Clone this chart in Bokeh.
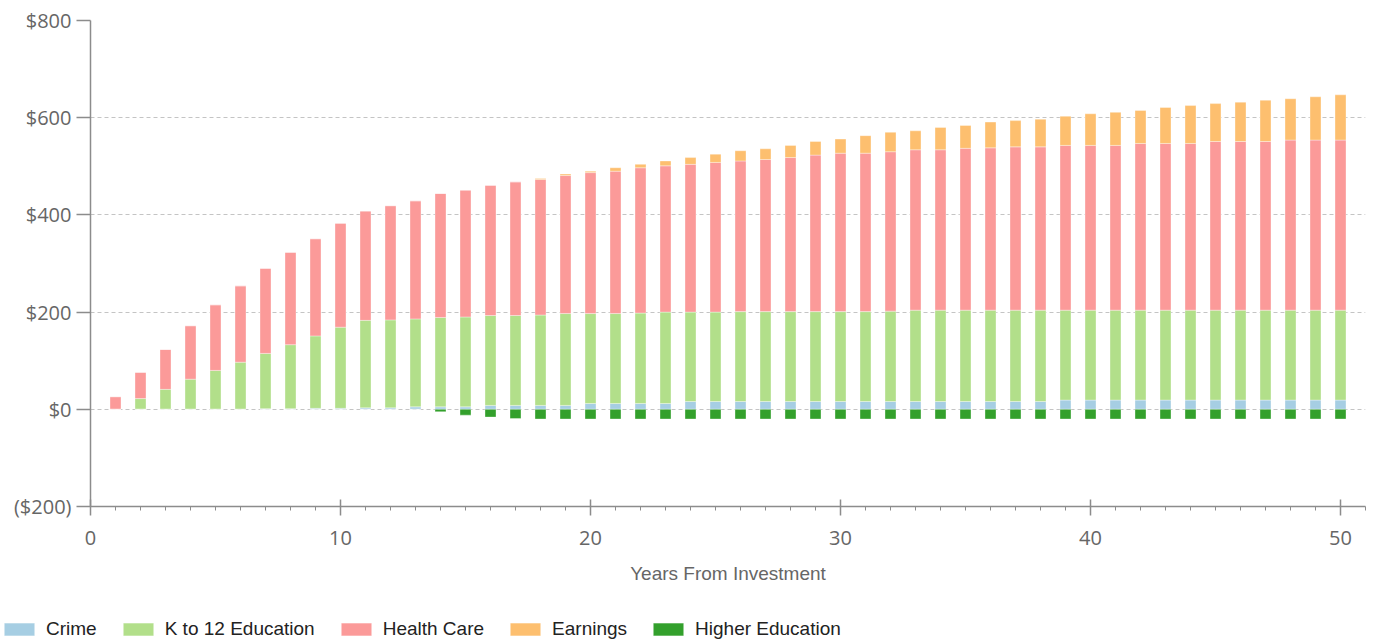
from bokeh.plotting import figure
from bokeh.models import ColumnDataSource, Range1d, FixedTicker
from bokeh.layouts import column, row
from bokeh.embed import file_html
from bokeh.resources import INLINE

years = list(range(1, 51))
series_names = ["Crime", "K to 12 Education", "Health Care", "Earnings"]
crime = [0, 0, 0, 0, 0, 0, 1, 1, 2, 2, 3, 3, 5, 5, 5, 8, 8, 8, 8, 12,
         12, 12, 12, 16, 16, 16, 16, 16, 16, 16, 16, 16, 16, 16, 16, 16, 16, 16, 19, 19,
         19, 19, 19, 19, 19, 19, 19, 19, 19, 19]
k12 = [0, 22, 41, 62, 80, 97, 114, 132, 149, 167, 180, 181, 181, 184, 185, 185, 185, 186, 189, 185,
       185, 186, 188, 184, 184, 185, 185, 185, 185, 185, 185, 186, 188, 188, 188, 188, 188, 188, 185, 185,
       185, 185, 185, 185, 185, 185, 185, 185, 185, 185]
health = [26, 54, 82, 110, 135, 157, 175, 190, 200, 214, 225, 235, 243, 255, 261, 268, 275, 279, 284, 290,
          293, 299, 301, 304, 308, 310, 313, 317, 322, 326, 326, 328, 330, 330, 333, 334, 336, 336, 339, 339,
          339, 343, 343, 343, 347, 347, 347, 350, 350, 350]
earnings = [0, 0, 0, 0, 0, 0, 0, 0, 0, 0, 0, 0, 0, 0, 0, 0, 0, 2, 3, 3,
            7, 7, 10, 14, 17, 21, 22, 25, 28, 29, 36, 40, 39, 46, 47, 53, 54, 57, 60, 65,
            68, 68, 74, 78, 78, 81, 85, 85, 89, 93]
higher_ed = [0, 0, 0, 0, 0, 0, 0, 0, 0, 0, 0, 0, 0, -5, -12, -16, -19, -20, -20, -20,
             -20, -20, -20, -20, -20, -20, -20, -20, -20, -20, -20, -20, -20, -20, -20, -20, -20, -20, -20, -20,
             -20, -20, -20, -20, -20, -20, -20, -20, -20, -20]

x_ticks = [0, 10, 20, 30, 40, 50]
y_ticks = [-200, 0, 200, 400, 600, 800]
y_tick_labels = ["($200)", "$0", "$200", "$400", "$600", "$800"]

colors = ["#a6cee3", "#b2df8a", "#fb9a99", "#fdbf6f"]
higher_color = "#33a02c"
stack_cols = ["crime", "k12", "health", "earnings"]

src = ColumnDataSource(data=dict(x=years, crime=crime, k12=k12, health=health,
                                 earnings=earnings, higher=higher_ed))

p = figure(width=1376, height=616, output_backend="svg", toolbar_location=None,
           x_range=Range1d(0, 51), y_range=Range1d(-200, 800),
           min_border_left=90, min_border_right=11, min_border_top=20, min_border_bottom=110)
p.outline_line_color = None
p.background_fill_color = "white"

p.vbar_stack(stack_cols, x="x", width=0.44, source=src,
             color=colors, line_color="white", line_alpha=0.35, line_width=1)
p.vbar(x="x", top=0, bottom="higher", width=0.44, source=src,
       fill_color=higher_color, line_color="white", line_alpha=0.35, line_width=1)

# grid
p.xgrid.grid_line_color = None
p.ygrid.ticker = FixedTicker(ticks=y_ticks)
p.ygrid.grid_line_color = "#c4c4c4"
p.ygrid.grid_line_dash = "4 3"
p.ygrid.grid_line_width = 1.2

axis_color = "#8c8c8c"
label_color = "#666666"

xa = p.xaxis[0]
xa.ticker = FixedTicker(ticks=x_ticks, minor_ticks=list(range(0, 52)))
xa.axis_line_color = axis_color
xa.axis_line_width = 1.5
xa.major_tick_line_color = axis_color
xa.major_tick_line_width = 1.5
xa.major_tick_in = 7
xa.major_tick_out = 9
xa.minor_tick_line_color = axis_color
xa.minor_tick_line_width = 1
xa.minor_tick_in = 0
xa.minor_tick_out = 4
xa.major_label_text_font = "Open Sans"
xa.major_label_text_font_size = "20px"
xa.major_label_text_color = label_color
xa.major_label_standoff = 15
xa.axis_label = "Years From Investment"
xa.axis_label_text_font = "Liberation Sans"
xa.axis_label_text_font_size = "19px"
xa.axis_label_text_font_style = "normal"
xa.axis_label_text_color = label_color
xa.axis_label_standoff = 15

ya = p.yaxis[0]
ya.ticker = FixedTicker(ticks=y_ticks, minor_ticks=[])
ya.major_label_overrides = {t: s for t, s in zip(y_ticks, y_tick_labels)}
ya.axis_line_color = axis_color
ya.axis_line_width = 1.5
ya.major_tick_line_color = axis_color
ya.major_tick_line_width = 1.5
ya.major_tick_in = 0
ya.major_tick_out = 14
ya.minor_tick_line_color = None
ya.major_label_text_font = "Open Sans"
ya.major_label_text_font_size = "20px"
ya.major_label_text_color = label_color
ya.major_label_standoff = 5

# legend strip below the chart (same series, drawn off-range so only the legend shows)
leg = figure(width=1376, height=27, output_backend="svg", toolbar_location=None,
             x_axis_type=None, y_axis_type=None, x_range=Range1d(-20, -19), y_range=Range1d(0, 1),
             min_border_left=0, min_border_right=0, min_border_top=0, min_border_bottom=0)
leg.outline_line_color = None
leg.xgrid.visible = False
leg.ygrid.visible = False
leg.vbar_stack(stack_cols, x="x", width=0.44, source=src, color=colors,
               line_color="white", line_alpha=0.35, line_width=1, legend_label=series_names)
leg.vbar(x="x", top=0, bottom="higher", width=0.44, source=src, fill_color=higher_color,
         line_color="white", line_alpha=0.35, line_width=1, legend_label="Higher Education")

lg = leg.legend[0]
lg.orientation = "horizontal"
lg.location = (0, 3)
lg.glyph_width = 38
lg.glyph_height = 16
lg.label_height = 16
lg.label_standoff = 8
lg.spacing = 22
lg.padding = 0
lg.margin = 0
lg.border_line_color = None
lg.background_fill_alpha = 0
lg.label_text_font = "Liberation Sans"
lg.label_text_font_size = "19px"
lg.label_text_color = "#222222"

layout = column(p, row(leg), spacing=0)
open("out.html", "w").write(file_html(layout, INLINE))
